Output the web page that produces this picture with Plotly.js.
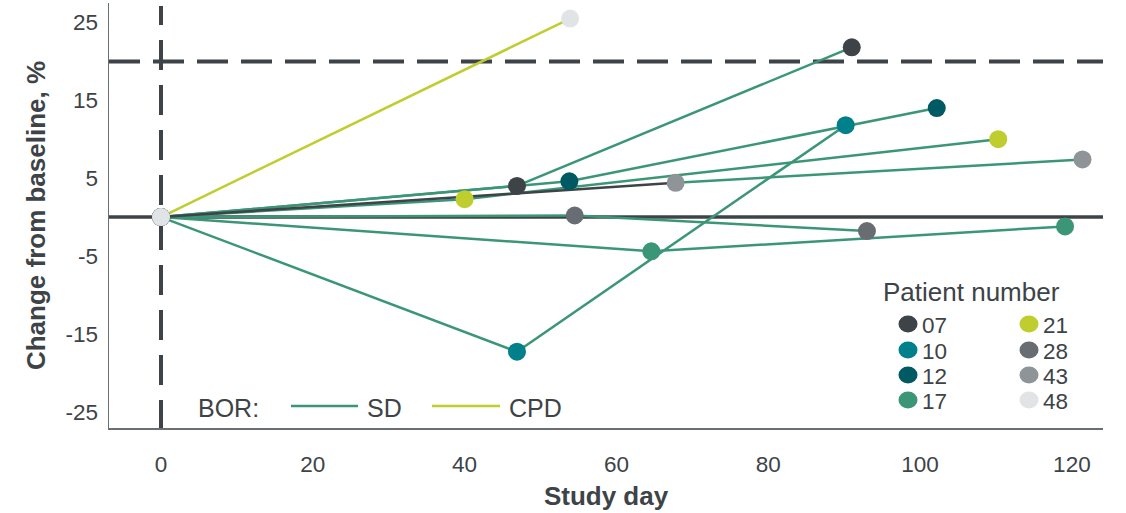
<!DOCTYPE html>
<html>
<head>
<meta charset="utf-8">
<script src="https://cdn.plot.ly/plotly-3.0.1.min.js"></script>
<style>html,body{margin:0;padding:0;background:#fff;}#chart{width:1126px;height:513px;}</style>
</head>
<body>
<div id="chart"></div>
<script>
// ---------------- DATA ----------------
const patientIds   = ['07', '10', '12', '17', '21', '28', '43', '48'];
const studyDays07  = [0, 46.9, 91.0];
const change07     = [0, 4.0, 21.8];
const studyDays10  = [0, 46.9, 90.2];
const change10     = [0, -17.3, 11.8];
const studyDays12  = [0, 53.8, 102.2];
const change12     = [0, 4.6, 14.0];
const studyDays17  = [0, 64.6, 119.1];
const change17     = [0, -4.4, -1.2];
const studyDays21  = [0, 40.0, 110.3];
const change21     = [0, 2.3, 10.0];
const studyDays28  = [0, 54.5, 93.0];
const change28     = [0, 0.2, -1.8];
const studyDays43  = [0, 67.8, 121.4];
const change43     = [0, 4.4, 7.4];
const studyDays48  = [0, 53.9];
const change48     = [0, 25.5];
const bestResponse = ['SD', 'SD', 'SD', 'SD', 'SD', 'SD', 'SD', 'CPD'];
const borLabels    = ['SD', 'CPD'];
const xTickVals    = [0, 20, 40, 60, 80, 100, 120];
const yTickVals    = [25, 15, 5, -5, -15, -25];
const progressionThreshold = 20;
const legendTitle  = 'Patient number';
const borTitle     = 'BOR:';

// ---------------- STYLE ----------------
const allDays = [studyDays07, studyDays10, studyDays12, studyDays17, studyDays21, studyDays28, studyDays43, studyDays48];
const allChanges = [change07, change10, change12, change17, change21, change28, change43, change48];
const markerColors = {
  '07': '#3d4346', '10': '#00808a', '12': '#005a64', '17': '#3b9677',
  '21': '#c0cd2f', '28': '#676d72', '43': '#8f9498', '48': '#e1e4e7'
};
const borColors = { 'SD': '#3b9677', 'CPD': '#c0cd2f' };
const dark = '#3d4346';
const FONT = 'Liberation Sans, Arial, Helvetica, sans-serif';
// first segment of patient 43 is drawn in dark grey in the original
const segmentOverride = { '43': [dark, null] };

const traces = [];
patientIds.forEach((id, i) => {
  const xs = allDays[i], ys = allChanges[i];
  for (let s = 0; s < xs.length - 1; s++) {
    let c = borColors[bestResponse[i]];
    if (segmentOverride[id] && segmentOverride[id][s]) c = segmentOverride[id][s];
    traces.push({
      x: [xs[s], xs[s + 1]], y: [ys[s], ys[s + 1]],
      type: 'scatter', mode: 'lines',
      line: { color: c, width: 2.5 },
      hoverinfo: 'skip', showlegend: false, cliponaxis: false
    });
  }
});
patientIds.forEach((id, i) => {
  traces.push({
    x: allDays[i], y: allChanges[i], name: id,
    type: 'scatter', mode: 'markers',
    marker: { color: markerColors[id], size: 18, line: { width: 0 } },
    showlegend: false, cliponaxis: false
  });
});

// pixel helpers for legend placement (plot area: x 109..1103, y 3..428)
const L = 109, R = 1103, T = 3, B = 428;
const px = x => (x - L) / (R - L);
const py = y => (B - y) / (B - T);

const shapes = [
  { type: 'line', xref: 'paper', yref: 'y', x0: 0, x1: 1, y0: 0, y1: 0,
    line: { color: dark, width: 3.5 }, layer: 'below' },
  { type: 'line', xref: 'paper', yref: 'y', x0: 0, x1: 1, y0: progressionThreshold, y1: progressionThreshold,
    line: { color: dark, width: 4, dash: '31px,13px' }, layer: 'below' },
  { type: 'line', xref: 'x', yref: 'paper', x0: 0, x1: 0, y0: py(430), y1: py(6),
    line: { color: dark, width: 4, dash: '30px,15px' }, layer: 'below' }
];
const annotations = [];

annotations.push({ xref: 'paper', yref: 'paper', x: px(971), y: py(292), text: legendTitle,
  showarrow: false, xanchor: 'center', yanchor: 'middle', font: { family: FONT, size: 26, color: dark } });
const colX = [908, 1029];
const rowY = [324, 350, 375, 400];
patientIds.forEach((id, i) => {
  const cx = colX[Math.floor(i / 4)], cy = rowY[i % 4];
  shapes.push({ type: 'circle', xref: 'paper', yref: 'paper',
    x0: px(cx - 9.5), x1: px(cx + 9.5), y0: py(cy + 8.5), y1: py(cy - 8.5),
    fillcolor: markerColors[id], line: { width: 0 } });
  annotations.push({ xref: 'paper', yref: 'paper', x: px(cx + 13), y: py(cy + 1), text: id,
    showarrow: false, xanchor: 'left', yanchor: 'middle', borderpad: 0,
    font: { family: FONT, size: 22.5, color: dark } });
});

annotations.push({ xref: 'paper', yref: 'paper', x: px(196), y: py(408), text: borTitle,
  showarrow: false, xanchor: 'left', yanchor: 'middle', font: { family: FONT, size: 25, color: dark } });
const borLineX = [[291, 358], [432, 500]];
borLabels.forEach((b, i) => {
  shapes.push({ type: 'line', xref: 'paper', yref: 'paper',
    x0: px(borLineX[i][0]), x1: px(borLineX[i][1]), y0: py(406), y1: py(406),
    line: { color: borColors[b], width: 2.5 } });
  annotations.push({ xref: 'paper', yref: 'paper', x: px(borLineX[i][1] + 7), y: py(408), text: b,
    showarrow: false, xanchor: 'left', yanchor: 'middle', font: { family: FONT, size: 25, color: dark } });
});

const layout = {
  width: 1126, height: 513,
  margin: { l: L, r: 1126 - R, t: T, b: 513 - B },
  paper_bgcolor: '#ffffff', plot_bgcolor: '#ffffff',
  font: { family: FONT, color: dark },
  showlegend: false,
  xaxis: {
    range: [-6.85, 124.1], tickvals: xTickVals, ticktext: xTickVals.map(String),
    showgrid: false, zeroline: false, showline: true, linecolor: '#6a6f73', linewidth: 1.5,
    ticks: '', ticklabelstandoff: 15,
    tickfont: { family: FONT, size: 22.5, color: dark },
    title: { text: '<b>Study day</b>', font: { family: FONT, size: 26, color: dark }, standoff: 11 }
  },
  yaxis: {
    range: [-27.1, 27.5], tickvals: yTickVals, ticktext: yTickVals.map(String),
    showgrid: false, zeroline: false, showline: true, linecolor: '#6a6f73', linewidth: 1.5,
    ticks: '', ticklabelstandoff: 5,
    tickfont: { family: FONT, size: 22.5, color: dark },
    title: { text: '<b>Change from baseline, %</b>', font: { family: FONT, size: 26, color: dark }, standoff: 12 }
  },
  shapes: shapes,
  annotations: annotations
};

Plotly.newPlot('chart', traces, layout, { staticPlot: true, displayModeBar: false });
</script>
</body>
</html>
